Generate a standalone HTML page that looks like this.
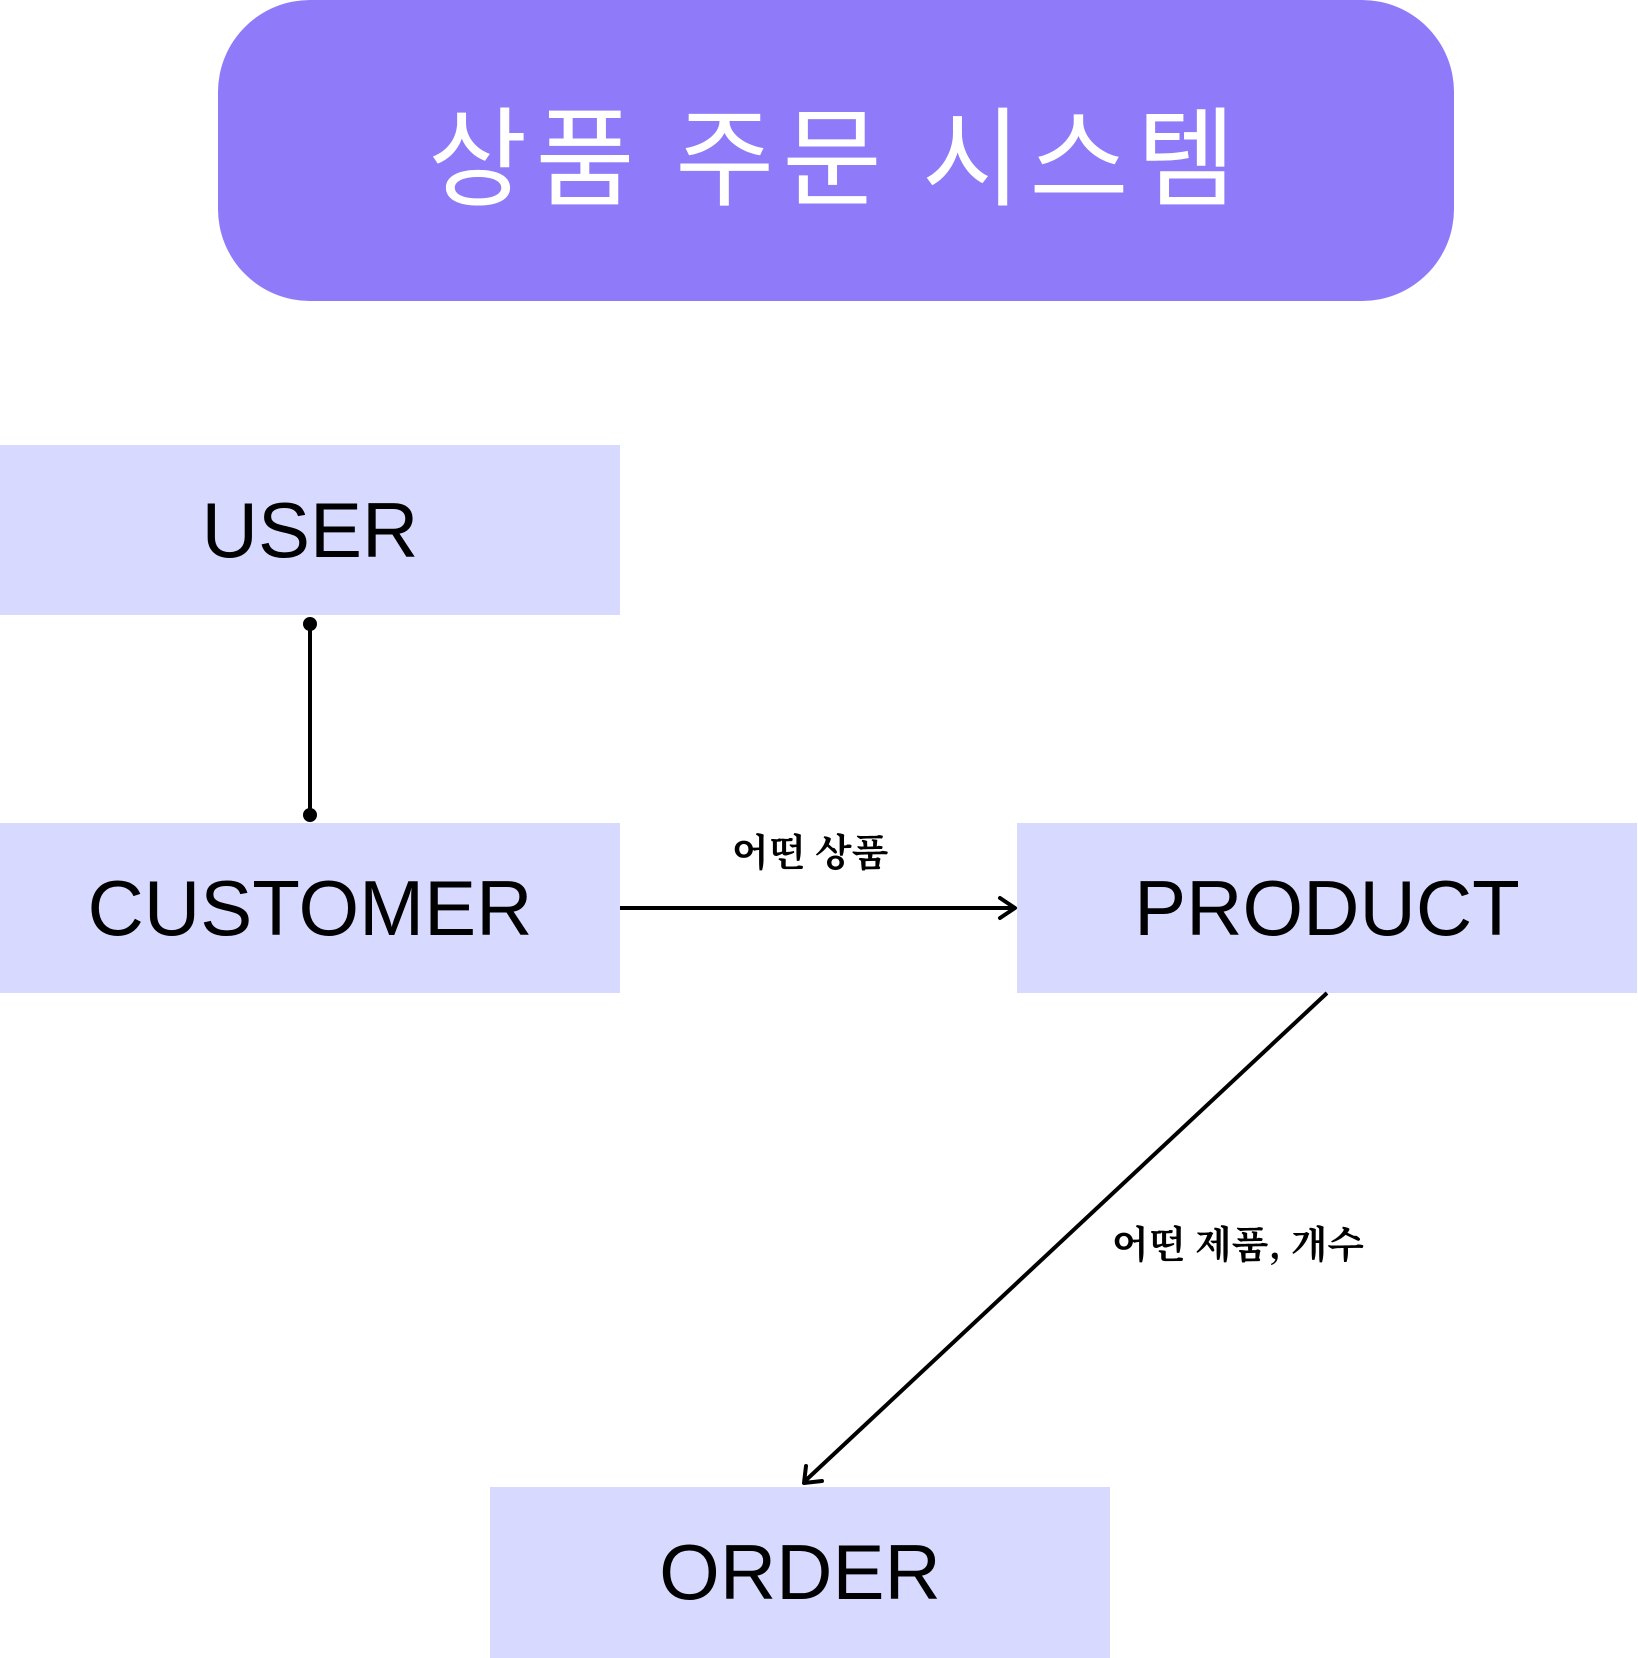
<!DOCTYPE html>
<html><head><meta charset="utf-8"><style>
html,body{margin:0;padding:0;background:#fff}
body{width:1638px;height:1658px;position:relative;overflow:hidden;font-family:"Liberation Sans","Noto Sans CJK KR",sans-serif}
.title{position:absolute;left:218px;top:0;width:1236px;height:301px;background:#8f7af9;border-radius:92px;color:#fff;font-size:108px;display:flex;align-items:center;justify-content:center;letter-spacing:8px;font-family:"Noto Sans CJK KR",sans-serif}
.box{position:absolute;width:620px;height:170px;background:#d7d9fe;display:flex;align-items:center;justify-content:center;font-size:78px;color:#000}
.lbl{position:absolute;font-family:"Noto Serif CJK SC","Noto Serif CJK KR",serif;font-weight:bold;font-size:38px;color:#000;white-space:nowrap}
</style></head><body>
<div class="title">상품 주문 시스템</div>
<div class="box" style="left:0;top:445px">USER</div>
<div class="box" style="left:0;top:823px">CUSTOMER</div>
<div class="box" style="left:1017px;top:823px">PRODUCT</div>
<div class="box" style="left:490px;top:1487px;height:171px">ORDER</div>
<svg width="1638" height="1658" style="position:absolute;left:0;top:0">
<line x1="310" y1="624" x2="310" y2="815" stroke="#000" stroke-width="4"/>
<circle cx="310" cy="624" r="7"/><circle cx="310" cy="815" r="7"/>
<line x1="620" y1="908" x2="1014" y2="908" stroke="#000" stroke-width="4"/>
<polyline points="1000,898 1015,908 1000,918" fill="none" stroke="#000" stroke-width="4" stroke-linecap="round" stroke-linejoin="round"/>
<line x1="1327" y1="993" x2="804" y2="1482" stroke="#000" stroke-width="4"/>
<polyline points="806,1466 804,1483 822,1481" fill="none" stroke="#000" stroke-width="4" stroke-linecap="round" stroke-linejoin="round"/>
</svg>
<div class="lbl" style="left:732px;top:822px">어떤 상품</div>
<div class="lbl" style="left:1112px;top:1214px">어떤 제품, 개수</div>
</body></html>
